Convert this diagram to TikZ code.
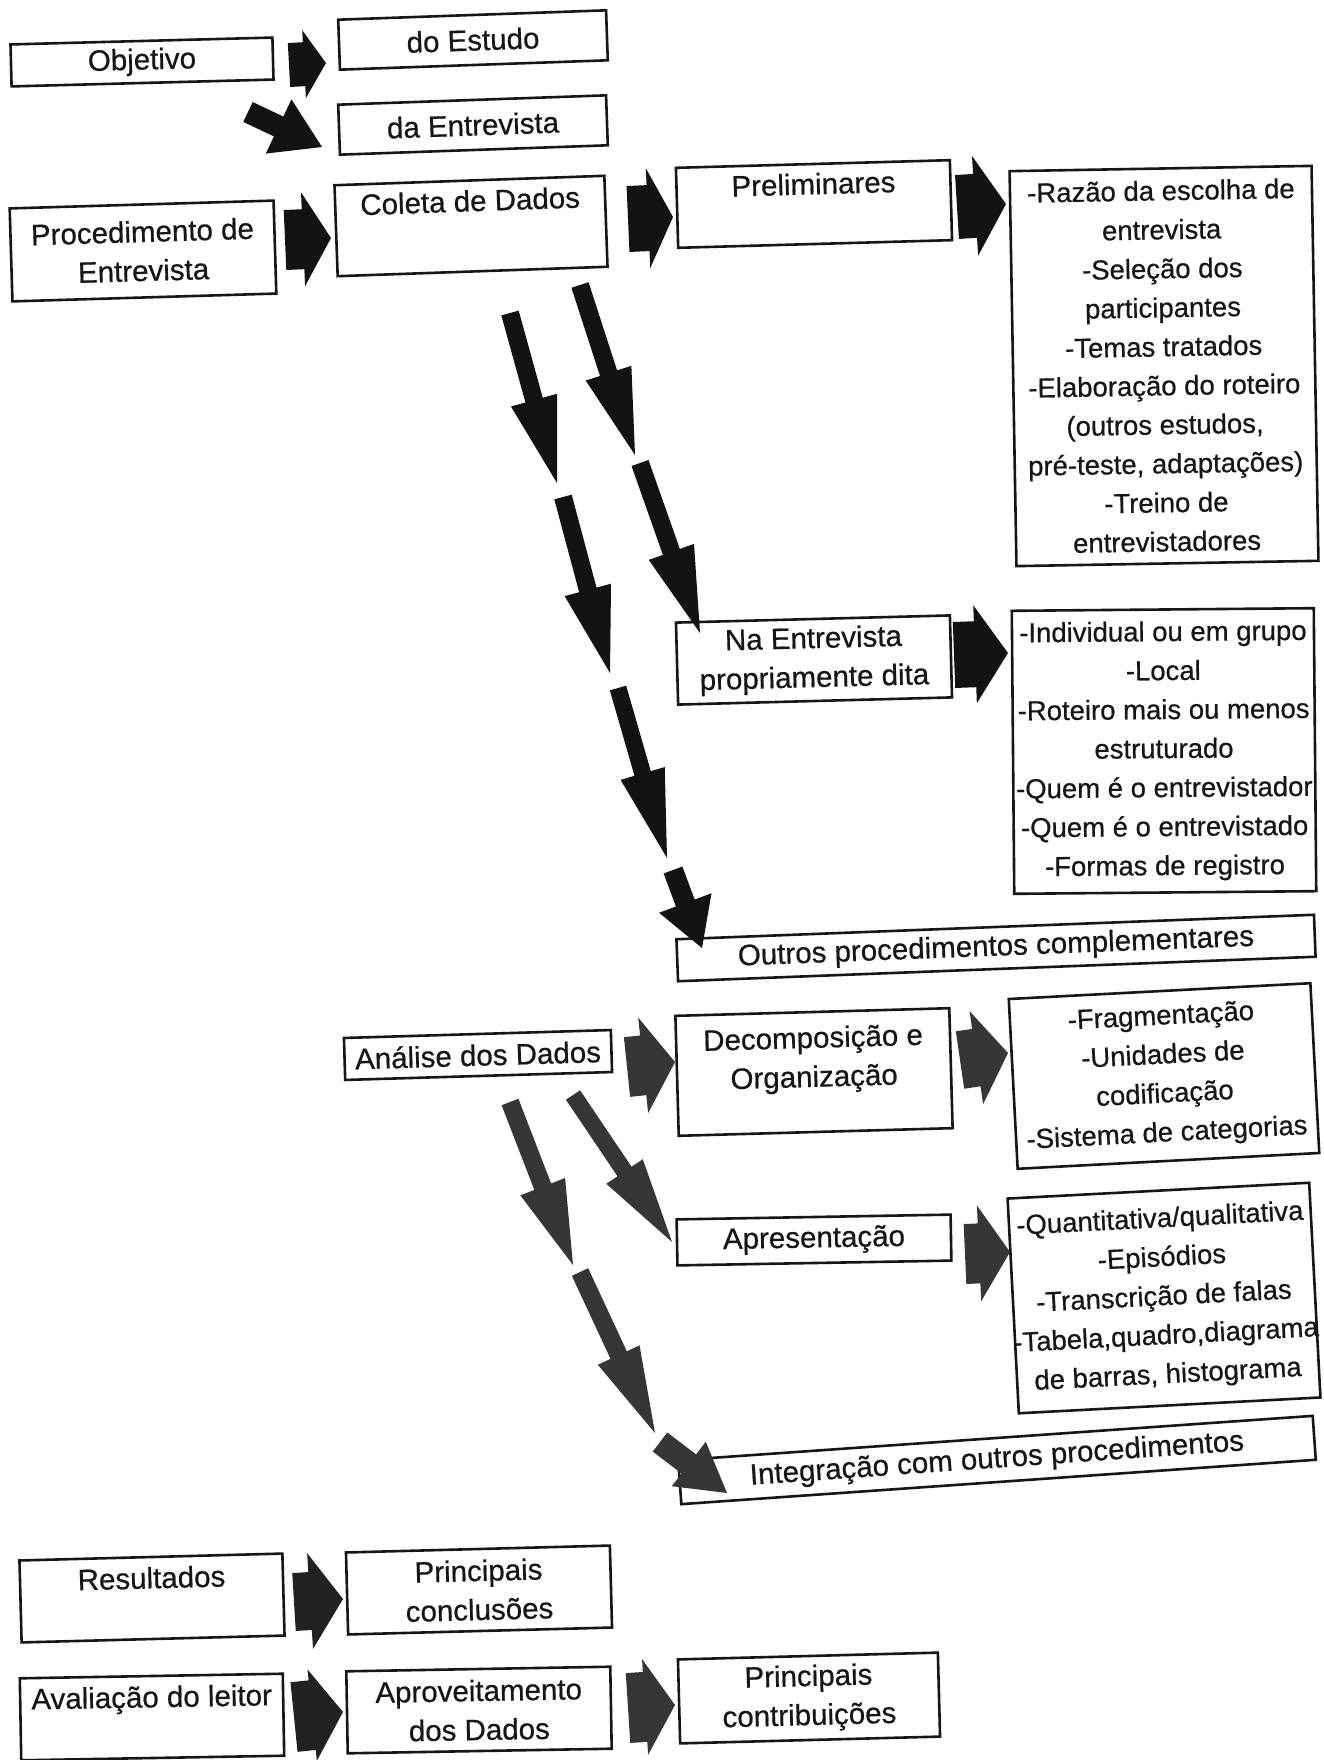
\documentclass[tikz,border=0pt]{standalone}
\usepackage{fontspec}
\setmainfont{Liberation Sans}[UprightFeatures={FakeBold=0.6}]
\usetikzlibrary{calc}
\definecolor{ink}{HTML}{161616}
\definecolor{arrA}{HTML}{131313}
\definecolor{arrB}{HTML}{363636}
\definecolor{arrC}{HTML}{222222}
% #1 colour, #2 tail, #3 tip, #4 shaft half width, #5 head half width, #6 head length
\newcommand\fatarr[6]{%
  \coordinate (fa-h) at ($(#3)!#6!(#2)$);
  \fill[#1] ($(#2)!#4!90:(#3)$) -- ($(fa-h)!#4!-90:(#2)$) -- ($(fa-h)!#5!-90:(#2)$) -- (#3)
    -- ($(fa-h)!#5!90:(#2)$) -- ($(fa-h)!#4!90:(#2)$) -- ($(#2)!#4!-90:(#3)$) -- cycle;}
\begin{document}
\begin{tikzpicture}[x=1pt,y=-1pt,
  box/.style={draw=ink, line width=2.6pt, fill=white, rectangle, inner sep=1.5pt,
    align=center, text=ink, font=\fontsize{29.5}{39}\selectfont},
  rbox/.style={box, font=\fontsize{27.5}{39}\selectfont}]
\fill[white] (0,0) rectangle (1323,1760);
\useasboundingbox (0,0) rectangle (1323,1760);

% ---------- boxes ----------
\node[box, minimum width=262pt, minimum height=42pt, rotate=1.5] (obj) at (142,62) {Objetivo};
\node[box, minimum width=268pt, minimum height=50pt, rotate=2] (est) at (473,40) {do Estudo};
\node[box, minimum width=268pt, minimum height=50pt, rotate=2] (ent) at (473,125) {da Entrevista};
\node[box, minimum width=264pt, minimum height=93pt, rotate=1.7] (proc) at (143,251) {Procedimento de\\Entrevista};
\node[box, minimum width=270pt, minimum height=91pt, rotate=2] (col) at (471,226) {Coleta de Dados\\\strut};
\node[box, minimum width=274pt, minimum height=80pt, rotate=1.6] (pre) at (814,204) {Preliminares\\[-10pt]\strut};
\node[rbox, minimum width=302pt, minimum height=395pt, rotate=1] (r1) at (1164,366)
  {-Razão da escolha de\\entrevista\\-Seleção dos\\participantes\\-Temas tratados\\-Elaboração do roteiro\\(outros estudos,\\pré-teste, adaptações)\\-Treino de\\entrevistadores};
\node[box, minimum width=274pt, minimum height=82pt, rotate=1.5] (na) at (814,660) {Na Entrevista\\propriamente dita};
\node[rbox, minimum width=302pt, minimum height=283pt, rotate=0.5] (r2) at (1164,751)
  {-Individual ou em grupo\\-Local\\-Roteiro mais ou menos\\estruturado\\-Quem é o entrevistador\\-Quem é o entrevistado\\-Formas de registro};
\node[box, minimum width=638pt, minimum height=42pt, rotate=2.2] (out) at (996,948) {Outros procedimentos complementares};
\node[box, minimum width=267pt, minimum height=42pt, rotate=1.7] (ana) at (478,1055) {Análise dos Dados};
\node[box, minimum width=274pt, minimum height=120pt, rotate=1.6] (dec) at (814,1072) {Decomposição e\\Organização\\[-20pt]\strut};
\node[rbox, minimum width=302pt, minimum height=170pt, rotate=3] (r3) at (1164,1076)
  {-Fragmentação\\-Unidades de\\codificação\\-Sistema de categorias};
\node[box, minimum width=274pt, minimum height=46pt, rotate=1] (apr) at (814,1240) {Apresentação};
\node[rbox, minimum width=302pt, minimum height=215pt, rotate=3] (r4) at (1164,1298)
  {-Quantitativa/qualitativa\\-Episódios\\-Transcrição de falas\\\makebox[296pt]{-Tabela,quadro,diagrama}\\de barras, histograma};
\node[box, minimum width=636pt, minimum height=44pt, rotate=4] (int) at (997,1460) {Integração com outros procedimentos};
\node[box, minimum width=263pt, minimum height=82pt, rotate=1.5] (res) at (152,1598) {Resultados\\[-10pt]\strut};
\node[box, minimum width=264pt, minimum height=82pt, rotate=1.5] (pcon) at (479,1590) {Principais\\conclusões};
\node[box, minimum width=263pt, minimum height=82pt, rotate=1] (ava) at (152,1717) {Avaliação do leitor\\[-10pt]\strut};
\node[box, minimum width=264pt, minimum height=82pt, rotate=1] (apro) at (479,1710) {Aproveitamento\\dos Dados};
\node[box, minimum width=260pt, minimum height=84pt, rotate=1.5] (pcont) at (809,1698) {Principais\\contribuições};

% ---------- arrow end points ----------
\coordinate (h1a) at (289,65);   \coordinate (h1b) at (326,63);
\coordinate (d1a) at (248,112);  \coordinate (d1b) at (322,147);
\coordinate (h2a) at (285,240);  \coordinate (h2b) at (331,238);
\coordinate (h3a) at (628,219);  \coordinate (h3b) at (673,217);
\coordinate (h4a) at (957,207);  \coordinate (h4b) at (1006,204);
\coordinate (h5a) at (954,655);  \coordinate (h5b) at (1008,653);
\coordinate (h6a) at (627,1067); \coordinate (h6b) at (675,1062);
\coordinate (h7a) at (960,1060); \coordinate (h7b) at (1008,1053);
\coordinate (h8a) at (965,1254); \coordinate (h8b) at (1010,1252);
\coordinate (h9a) at (294,1602); \coordinate (h9b) at (343,1599);
\coordinate (h10a) at (294,1717); \coordinate (h10b) at (343,1712);
\coordinate (h11a) at (628,1708); \coordinate (h11b) at (675,1705);
\coordinate (a1a) at (510,313);  \coordinate (a1b) at (557,483);
\coordinate (a2a) at (580,285);  \coordinate (a2b) at (635,455);
\coordinate (a3a) at (563,497);  \coordinate (a3b) at (610,673);
\coordinate (a4a) at (640,463);  \coordinate (a4b) at (700,633);
\coordinate (a5a) at (618,688);  \coordinate (a5b) at (667,858);
\coordinate (a6a) at (673,870);  \coordinate (a6b) at (702,948);
\coordinate (b1a) at (510,1102); \coordinate (b1b) at (573,1265);
\coordinate (b2a) at (573,1095); \coordinate (b2b) at (672,1242);
\coordinate (b3a) at (580,1272); \coordinate (b3b) at (655,1433);
\coordinate (b4a) at (660,1442); \coordinate (b4b) at (727,1493);

% ---------- block arrows ----------
\fatarr{arrA}{h1a}{h1b}{22pt}{34pt}{22pt}
\fatarr{arrA}{d1a}{d1b}{11pt}{30pt}{48pt}
\fatarr{arrA}{h2a}{h2b}{30pt}{47pt}{28pt}
\fatarr{arrA}{h3a}{h3b}{33pt}{50pt}{25pt}
\fatarr{arrA}{h4a}{h4b}{32pt}{50pt}{31pt}
\fatarr{arrA}{h5a}{h5b}{33pt}{49pt}{33pt}
\fatarr{arrB}{h6a}{h6b}{30pt}{48pt}{32pt}
\fatarr{arrB}{h7a}{h7b}{29pt}{47pt}{32pt}
\fatarr{arrB}{h8a}{h8b}{30pt}{48pt}{31pt}
\fatarr{arrC}{h9a}{h9b}{29pt}{48pt}{33pt}
\fatarr{arrC}{h10a}{h10b}{35pt}{46pt}{31pt}
\fatarr{arrB}{h11a}{h11b}{35pt}{48pt}{30pt}

% ---------- slanted arrows ----------
\fatarr{arrA}{a1a}{a1b}{9pt}{24pt}{86pt}
\fatarr{arrA}{a2a}{a2b}{9pt}{24pt}{86pt}
\fatarr{arrA}{a3a}{a3b}{9pt}{24pt}{86pt}
\fatarr{arrA}{a4a}{a4b}{9pt}{24pt}{86pt}
\fatarr{arrA}{a5a}{a5b}{8.5pt}{23pt}{88pt}
\fatarr{arrA}{a6a}{a6b}{10pt}{28pt}{48pt}
\fatarr{arrB}{b1a}{b1b}{9pt}{24pt}{84pt}
\fatarr{arrB}{b2a}{b2b}{8.5pt}{22pt}{85pt}
\fatarr{arrB}{b3a}{b3b}{9pt}{23pt}{86pt}
\fatarr{arrB}{b4a}{b4b}{12pt}{28pt}{48pt}
\end{tikzpicture}
\end{document}
